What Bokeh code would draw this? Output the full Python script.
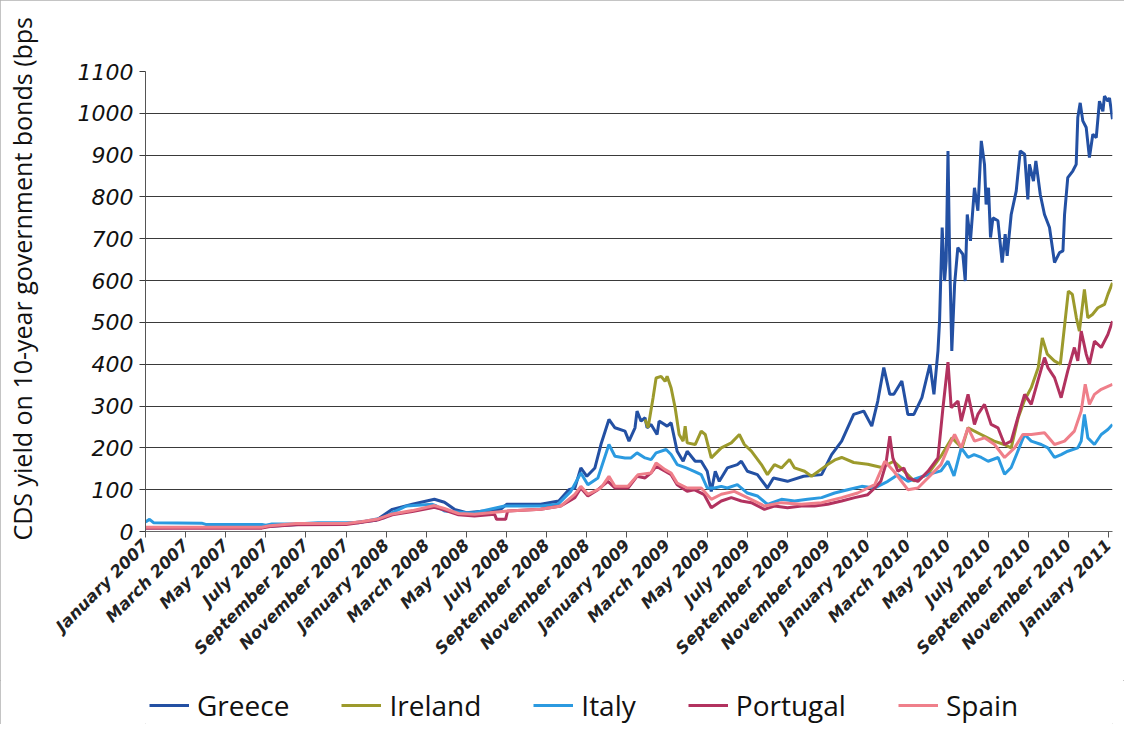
import math
from bokeh.plotting import figure
from bokeh.layouts import column
from bokeh.models import Range1d, FixedTicker, Legend, LegendItem
from bokeh.embed import file_html
from bokeh.resources import INLINE

# ---------------- data ----------------
month_labels = ["January 2007", "March 2007", "May 2007", "July 2007", "September 2007",
                "November 2007", "January 2008", "March 2008", "May 2008", "July 2008",
                "September 2008", "November 2008", "January 2009", "March 2009", "May 2009",
                "July 2009", "September 2009", "November 2009", "January 2010", "March 2010",
                "May 2010", "July 2010", "September 2010", "November 2010", "January 2011"]
tick_months = list(range(0, 49, 2))  # months since January 2007
y_ticks = list(range(0, 1101, 100))

greece_m = [0, 3, 6, 8, 10, 11.5, 12.3, 13.3, 14.4, 14.9,
            15.4, 16, 16.9, 17.7, 18, 19.7, 20.6, 21.1, 21.4, 21.7,
            22, 22.4, 22.7, 23.1, 23.4, 23.9, 24.1, 24.4, 24.5, 24.7,
            24.9, 25.0, 25.2, 25.5, 25.6, 26.0, 26.2, 26.5, 26.8, 27.0,
            27.4, 27.7, 28.0, 28.2, 28.4, 28.6, 29.0, 29.5, 29.7, 30.0,
            30.5, 31.0, 31.3, 32.0, 32.8, 33.7, 34.2, 34.7, 35.3, 35.8,
            36.2, 36.5, 36.8, 37.1, 37.3, 37.7, 38.0, 38.3, 38.7, 39.1,
            39.3, 39.5, 39.58, 39.71, 39.83, 39.91, 40.0, 40.08, 40.19, 40.33,
            40.49, 40.74, 40.86, 40.96, 41.12, 41.32, 41.49, 41.66, 41.82, 41.9,
            42.02, 42.12, 42.24, 42.49, 42.7, 42.85, 42.95, 43.15, 43.4, 43.6,
            43.82, 43.98, 44.06, 44.26, 44.38, 44.6, 44.81, 45.06, 45.31, 45.56,
            45.73, 45.81, 45.97, 46.22, 46.39, 46.47, 46.59, 46.72, 46.89, 47.05,
            47.22, 47.39, 47.55, 47.72, 47.8, 47.97, 48.05, 48.2]
greece_v = [9, 10, 12, 18, 19, 27, 53, 65, 77, 70,
            53, 45, 49, 53, 65, 65, 73, 100, 104, 152,
            132, 152, 208, 268, 248, 240, 216, 248, 288, 264,
            272, 248, 256, 232, 264, 252, 260, 192, 168, 192,
            168, 168, 144, 96, 144, 120, 152, 160, 168, 144,
            136, 104, 128, 120, 132, 136, 184, 216, 280, 288,
            252, 312, 392, 328, 328, 360, 280, 280, 320, 400,
            328, 432, 503, 727, 599, 647, 910, 663, 432, 591,
            679, 663, 599, 758, 695, 822, 767, 934, 878, 782,
            822, 703, 750, 743, 643, 711, 659, 758, 814, 910,
            902, 794, 878, 838, 886, 806, 758, 727, 643, 667,
            671, 758, 846, 862, 878, 990, 1025, 982, 966, 894,
            950, 942, 1029, 1005, 1041, 1029, 1037, 986]

ireland_m = [24.9, 25.05, 25.3, 25.45, 25.7, 25.9, 26.0, 26.2, 26.4, 26.6,
             26.8, 26.9, 27.0, 27.4, 27.7, 27.9, 28.2, 28.7, 29.2, 29.6,
             29.85, 30.2, 30.7, 31.0, 31.35, 31.7, 32.1, 32.35, 32.85, 33.2,
             34.0, 34.4, 34.7, 35.3, 36.0, 36.7, 37.3, 37.8, 38.3, 39.0,
             39.7, 40.2, 40.7, 41.0, 41.65, 42.3, 42.8, 43.15, 43.5, 43.8,
             44.15, 44.5, 44.7, 44.95, 45.3, 45.6, 46.0, 46.2, 46.4, 46.55,
             46.8, 46.97, 47.2, 47.47, 47.8, 47.97, 48.2]
ireland_v = [268, 248, 320, 367, 371, 359, 371, 343, 296, 232,
             216, 252, 212, 208, 240, 232, 176, 200, 212, 232,
             208, 192, 160, 136, 160, 152, 172, 152, 144, 132,
             160, 172, 177, 165, 161, 153, 168, 145, 121, 137,
             184, 224, 200, 248, 232, 216, 208, 200, 272, 312,
             344, 392, 463, 424, 408, 400, 575, 567, 511, 479,
             579, 511, 519, 535, 543, 567, 595]

italy_m = [0, 0.2, 0.4, 2.8, 3.0, 5.8, 6.0, 6.3, 7.5, 8.6,
           10.6, 11.4, 11.9, 12.3, 13.0, 14.3, 14.5, 14.9, 16.0, 16.4,
           17.9, 19.7, 20.55, 21.2, 21.7, 22.05, 22.55, 23.1, 23.4, 23.9,
           24.2, 24.5, 24.9, 25.2, 25.45, 25.95, 26.2, 26.5, 26.95, 27.35,
           27.7, 28.0, 28.35, 28.7, 29.0, 29.5, 30.0, 30.5, 31.0, 31.7,
           32.35, 33.0, 33.7, 34.35, 35.0, 35.7, 36.35, 37.0, 37.5, 38.0,
           38.5, 39.0, 39.65, 40.0, 40.3, 40.66, 41.0, 41.3, 41.66, 42.0,
           42.5, 42.82, 43.15, 43.48, 43.82, 44.15, 44.65, 44.98, 45.31, 45.64,
           45.97, 46.47, 46.64, 46.8, 46.97, 47.3, 47.64, 47.97, 48.2]
italy_v = [23, 29, 21, 20, 17, 17, 15, 18, 18, 21,
           21, 29, 33, 45, 61, 65, 61, 49, 45, 45,
           61, 61, 65, 96, 140, 112, 128, 208, 180, 176,
           176, 188, 176, 172, 188, 196, 184, 160, 152, 144,
           136, 104, 104, 108, 104, 112, 92, 85, 65, 77,
           73, 77, 81, 92, 100, 108, 104, 120, 136, 120,
           128, 136, 145, 168, 133, 200, 177, 184, 177, 168,
           177, 137, 153, 192, 232, 216, 208, 200, 177, 184,
           192, 200, 216, 280, 224, 208, 232, 244, 256]

portugal_m = [0, 5.8, 6.2, 7.5, 10.0, 10.8, 11.6, 12.3, 13.3, 14.4,
              14.9, 15.6, 16.4, 17.4, 17.5, 17.95, 18.05, 19.7, 20.7, 21.4,
              21.7, 22.05, 22.55, 23.05, 23.4, 24.05, 24.5, 24.9, 25.2, 25.45,
              25.9, 26.2, 26.5, 27.0, 27.35, 27.85, 28.2, 28.7, 29.2, 29.7,
              30.2, 30.85, 31.35, 32.0, 32.7, 33.35, 34.0, 34.7, 35.35, 36.0,
              36.35, 36.65, 36.9, 37.1, 37.25, 37.5, 37.8, 38.0, 38.5, 39.0,
              39.5, 39.75, 40.0, 40.16, 40.33, 40.5, 40.66, 41.0, 41.32, 41.49,
              41.82, 42.15, 42.49, 42.82, 43.15, 43.48, 43.82, 44.15, 44.48, 44.81,
              44.98, 45.31, 45.64, 45.97, 46.3, 46.47, 46.64, 46.89, 47.05, 47.3,
              47.64, 47.97, 48.2]
portugal_v = [8, 8, 12, 16, 17, 22, 28, 40, 48, 58,
              51, 40, 37, 41, 29, 29, 49, 53, 61, 81,
              104, 85, 100, 120, 104, 104, 132, 128, 140, 156,
              144, 136, 112, 96, 100, 88, 57, 73, 81, 73,
              69, 53, 61, 57, 61, 61, 65, 73, 81, 88,
              104, 120, 160, 228, 176, 144, 152, 128, 120, 144,
              176, 296, 405, 296, 304, 312, 264, 328, 256, 280,
              304, 256, 248, 208, 216, 272, 328, 304, 360, 416,
              392, 368, 320, 384, 440, 408, 479, 424, 400, 455,
              440, 471, 503]

spain_m = [0, 5.8, 6.2, 7.5, 10.0, 10.8, 11.6, 12.3, 13.3, 14.4,
           14.9, 15.6, 16.4, 18.05, 19.7, 20.7, 21.4, 21.7, 22.05, 22.7,
           23.1, 23.4, 24.05, 24.55, 25.2, 25.45, 25.9, 26.2, 26.5, 27.0,
           27.7, 28.2, 28.7, 29.35, 30.0, 30.85, 31.7, 32.7, 33.7, 34.7,
           35.5, 36.35, 36.85, 37.3, 38.0, 38.5, 39.0, 39.65, 40.0, 40.33,
           40.66, 41.0, 41.32, 41.82, 42.32, 42.82, 43.32, 43.73, 44.15, 44.81,
           45.31, 45.81, 46.3, 46.64, 46.84, 47.05, 47.3, 47.64, 48.2]
spain_v = [10, 10, 14, 19, 19, 24, 30, 42, 50, 62,
           55, 43, 41, 49, 53, 61, 89, 108, 89, 104,
           132, 108, 108, 136, 140, 164, 148, 140, 116, 104,
           104, 77, 89, 96, 81, 61, 69, 65, 69, 81,
           92, 112, 168, 144, 100, 104, 128, 160, 200, 232,
           200, 248, 216, 224, 208, 177, 200, 232, 232, 236,
           208, 216, 240, 288, 352, 304, 328, 340, 352]

series = [
    ("Greece", greece_m, greece_v, "#2350a3"),
    ("Ireland", ireland_m, ireland_v, "#9c9a2c"),
    ("Italy", italy_m, italy_v, "#2b9ae0"),
    ("Portugal", portugal_m, portugal_v, "#b2325f"),
    ("Spain", spain_m, spain_v, "#ef7f8a"),
]

# ---------------- main figure ----------------
p = figure(width=1124, height=680, output_backend="svg", toolbar_location=None,
           x_range=Range1d(0, 48.2), y_range=Range1d(0, 1100),
           min_border_left=145, min_border_right=12, min_border_top=71, min_border_bottom=149)
p.outline_line_color = None
p.background_fill_color = "white"
p.border_fill_color = "white"

for name, xs, ys, col in series:
    p.line(xs, ys, line_color=col, line_width=3)

# grid
p.xgrid.visible = False
p.ygrid.grid_line_color = "#3a3a3a"
p.ygrid.grid_line_width = 1
p.ygrid.ticker = FixedTicker(ticks=y_ticks)

# y axis
p.yaxis.ticker = FixedTicker(ticks=y_ticks)
p.yaxis.major_label_text_font = "DejaVu Sans"
p.yaxis.major_label_text_font_style = "italic"
p.yaxis.major_label_text_font_size = "22px"
p.yaxis.major_label_text_color = "#111111"
p.yaxis.axis_line_color = "#555555"
p.yaxis.major_tick_line_color = "#3a3a3a"
p.yaxis.major_tick_out = 6
p.yaxis.major_tick_in = 0
p.yaxis.minor_tick_line_color = None
p.yaxis.major_label_standoff = 6
p.yaxis.axis_label = "\u00a0" * 7 + "CDS yield on 10-year government bonds (bps"
p.yaxis.axis_label_text_font = "Open Sans"
p.yaxis.axis_label_text_font_style = "normal"
p.yaxis.axis_label_text_font_size = "25px"
p.yaxis.axis_label_text_color = "#111111"
p.yaxis.axis_label_standoff = 36

# x axis
p.xaxis.ticker = FixedTicker(ticks=tick_months)
p.xaxis.major_label_overrides = {m: lab for m, lab in zip(tick_months, month_labels)}
p.xaxis.major_label_orientation = math.pi / 4
p.xaxis.major_label_text_font = "DejaVu Sans"
p.xaxis.major_label_text_font_style = "bold italic"
p.xaxis.major_label_text_font_size = "16.5px"
p.xaxis.major_label_text_color = "#222222"
p.xaxis.axis_line_color = "#666666"
p.xaxis.major_tick_line_color = "#555555"
p.xaxis.major_tick_out = 6
p.xaxis.major_tick_in = 0
p.xaxis.minor_tick_line_color = None
p.xaxis.major_label_standoff = 5

# ---------------- legend strip ----------------
lg = figure(width=1124, height=44, output_backend="svg", toolbar_location=None,
            x_axis_type=None, y_axis_type=None,
            x_range=Range1d(0, 1), y_range=Range1d(0, 1),
            min_border_left=0, min_border_right=0, min_border_top=0, min_border_bottom=0)
lg.outline_line_color = None
lg.grid.visible = False
lg.background_fill_color = "white"
lg.border_fill_color = "white"

items = []
for name, xs, ys, col in series:
    # single-point line: draws nothing in the strip, only supplies the legend glyph
    r = lg.line(x=[0], y=[0], line_color=col, line_width=3)
    items.append(LegendItem(label=name, renderers=[r]))

legend = Legend(items=items, orientation="horizontal", location=(4, 0),
                padding=0, margin=0, spacing=52, glyph_width=40, glyph_height=20,
                label_standoff=8, border_line_color=None, background_fill_alpha=0,
                label_text_font="Open Sans", label_text_font_size="28px",
                label_text_color="#111111")
lg.add_layout(legend, "center")

page = column(p, lg, spacing=0)
page.styles = {"outline": "1px solid #b0b0b0", "outline-offset": "-1px"}

open("out.html", "w").write(file_html(page, INLINE))
